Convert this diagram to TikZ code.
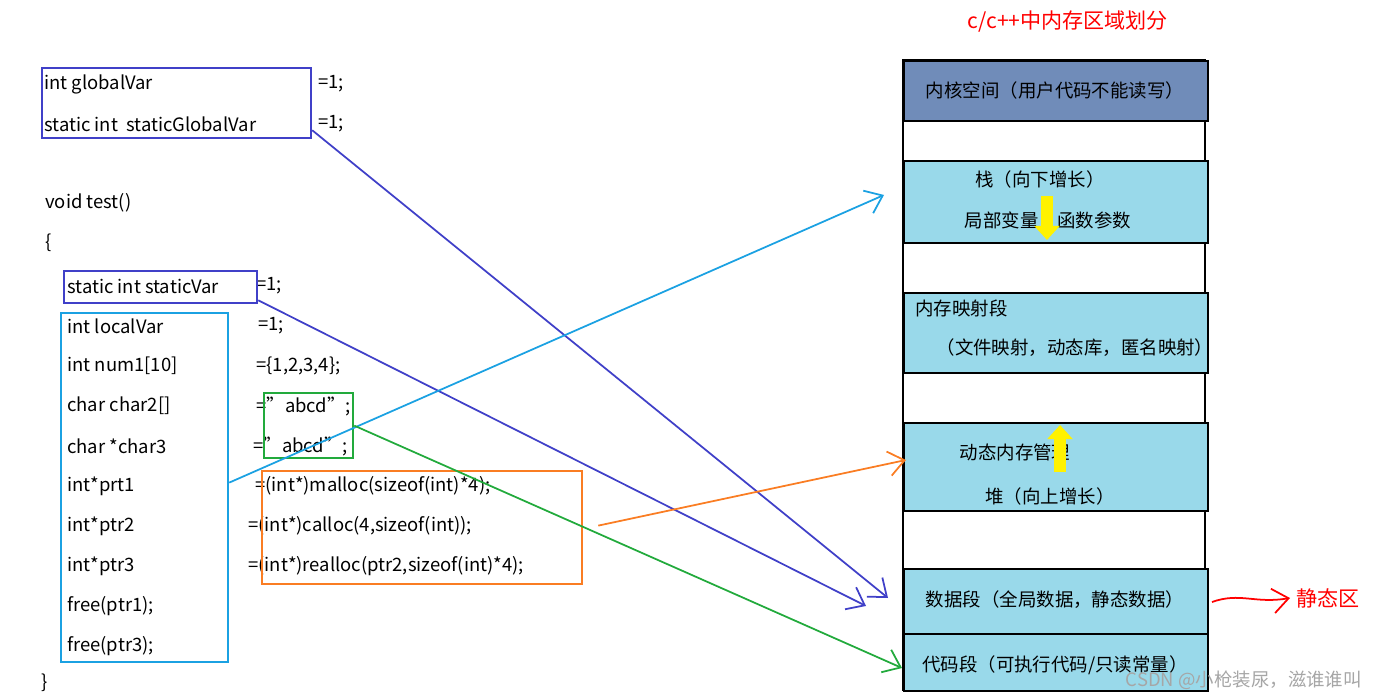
\documentclass[tikz,border=0pt]{standalone}
\usepackage{fontspec}
\setmainfont{Noto Sans CJK SC}
\usetikzlibrary{positioning, calc, arrows.meta}

\definecolor{boxblue}{RGB}{64,64,200}
\definecolor{boxcyan}{RGB}{27,161,226}
\definecolor{boxgreen}{RGB}{34,170,60}
\definecolor{boxorange}{RGB}{250,125,35}
\definecolor{bandblue}{RGB}{153,217,234}
\definecolor{kernelblue}{RGB}{112,140,185}

\begin{document}
\begin{tikzpicture}[x=0.02cm, y=-0.02cm, >={Straight Barb[length=9pt, width=14pt]},
	code/.style={anchor=west, inner sep=0pt, font=\fontsize{10.5}{12}\selectfont},
	band/.style={anchor=north west, draw=black, fill=bandblue, line width=1.2pt, minimum width=6.08cm, inner sep=0pt},
	mem/.style={font=\fontsize{10.5}{12}\selectfont, inner sep=0pt},
	frame/.style={anchor=north west, draw=#1, line width=1.3pt, inner sep=0pt},
	link/.style={->, draw=#1, line width=1pt}
	]
	\useasboundingbox (0,0) rectangle (1377,699);

	%Codigo:
	\node[code] (l1) at (44,84) {int globalVar};
	\node[code] (r1) at (318,84) {=1;};
	\node[code] (l2) at (44,124) {static int\ \ staticGlobalVar};
	\node[code] (r2) at (318,124) {=1;};
	\node[code] (l3) at (45,203) {void test()};
	\node[code] (l4) at (45,243) {\{};
	\node[code] (l5) at (67,286) {static int staticVar};
	\node[code] (r5) at (256,286) {=1;};
	\node[code] (l6) at (67,326) {int localVar};
	\node[code] (r6) at (258,326) {=1;};
	\node[code] (l7) at (67,366) {int num1[10]};
	\node[code] (r7) at (256,366) {=\{1,2,3,4\};};
	\node[code] (l8) at (67,406) {char char2[]};
	\node[code] (r8) at (256,406) {="abcd";};
	\node[code] (l9) at (67,446) {char *char3};
	\node[code] (r9) at (253,446) {="abcd";};
	\node[code] (l10) at (67,486) {int*prt1};
	\node[code] (r10) at (255,486) {=(int*)malloc(sizeof(int)*4);};
	\node[code] (l11) at (67,526) {int*ptr2};
	\node[code] (r11) at (248,526) {=(int*)calloc(4,sizeof(int));};
	\node[code] (l12) at (67,566) {int*ptr3};
	\node[code] (r12) at (248,566) {=(int*)realloc(ptr2,sizeof(int)*4);};
	\node[code] (l13) at (67,606) {free(ptr1);};
	\node[code] (l14) at (67,646) {free(ptr3);};
	\node[code] (l15) at (41,683) {\}};

	%Caixas:
	\node[frame=boxblue, minimum width=5.38cm, minimum height=1.4cm] (gbox) at (41,67) {};
	\node[frame=boxblue, minimum width=3.86cm, minimum height=0.64cm] (sbox) at (63,270) {};
	\node[frame=boxcyan, minimum width=3.34cm, minimum height=6.98cm] (lbox) at (60,312) {};
	\node[frame=boxgreen, minimum width=1.78cm, minimum height=1.3cm] (strbox) at (263,392) {};
	\node[frame=boxorange, minimum width=6.4cm, minimum height=2.26cm] (mbox) at (261,470) {};

	%Memoria:
	\node[font=\fontsize{12}{14}\selectfont, text=red] (title) at (1068,22) {c/c++中内存区域划分};
	\draw[line width=1.2pt] (903,60) rectangle (1205,690);
	\node[band, fill=kernelblue, minimum height=1.2cm] (kernel) at (903,60) {};
	\node[band, minimum height=1.64cm] (stack) at (903,160) {};
	\node[band, minimum height=1.6cm] (mmap) at (903,292) {};
	\node[band, minimum height=1.76cm] (heap) at (903,422) {};
	\node[band, minimum height=1.3cm] (data) at (903,568) {};
	\node[band, minimum height=1.14cm] (text) at (903,633) {};

	\node[mem] (t1) at (1055,90) {内核空间（用户代码不能读写）};
	\node[mem] (t2) at (1040,179) {栈（向下增长）};
	\node[mem] (t3) at (1048,221) {局部变量，函数参数};
	\node[mem, anchor=west] (t4) at (915,308) {内存映射段};
	\node[mem] (t5) at (1075,348) {（文件映射，动态库，匿名映射）};
	\node[mem] (t6) at (1015,452) {动态内存管理};
	\node[mem] (t7) at (1050,496) {堆（向上增长）};
	\node[mem] (t8) at (1055,600) {数据段（全局数据，静态数据）};
	\node[mem] (t9) at (1055,665) {代码段（可执行代码/只读常量）};

	\draw[yellow, line width=7pt, -{Triangle[length=8pt, width=14pt]}] (1047,196) -- (1047,240);
	\draw[yellow, line width=7pt, -{Triangle[length=8pt, width=14pt]}] (1060,472) -- (1060,425);

	%Setas:
	\coordinate (pData1) at (888,598);
	\coordinate (pData2) at (866,606);
	\coordinate (pStack) at (884,195);
	\coordinate (pCode) at (902,668);
	\coordinate (pHeap) at (906,460);
	\draw[link=boxblue] ($(gbox.south east)+(0,-9)$) -- (pData1);
	\draw[link=boxblue] ($(sbox.south east)+(0,-4)$) -- (pData2);
	\draw[link=boxcyan] ($(lbox.east)+(0,-5)$) -- (pStack);
	\draw[link=boxgreen] (strbox.east) -- (pCode);
	\draw[link=boxorange] ($(mbox.east)+(15,-2)$) -- (pHeap);

	\node[font=\fontsize{12}{14}\selectfont, text=red, anchor=west] (static) at (1290,598) {静态区};
	\draw[red, line width=1pt, ->] (1212,602) .. controls (1240,592) and (1255,604) .. (static.west);

	\node[font=\fontsize{10.5}{12}\selectfont, text=gray!70, anchor=east] (mark) at (1368,680) {CSDN @小枪装尿，滋谁谁叫};
\end{tikzpicture}
\end{document}
